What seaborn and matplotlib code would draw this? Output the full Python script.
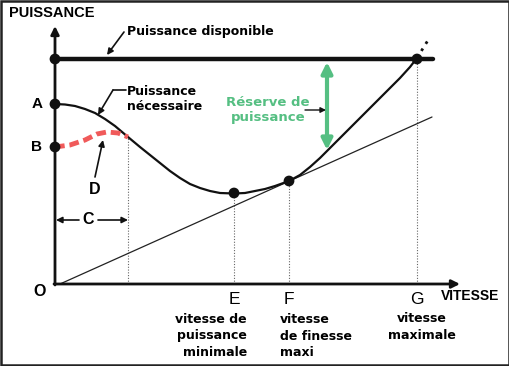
import numpy as np
import pandas as pd
import seaborn as sns
import matplotlib.pyplot as plt
from matplotlib.patches import Rectangle

sns.set_style("white")
plt.rcParams['text.color'] = '#000000'

# Data (schematic units: origin O at 0,0)
vitesse_nec = [0, 10, 20, 30, 40, 50, 60, 73, 85, 95, 105, 115, 125, 135, 145, 155,
               165, 179, 190, 200, 210, 220, 234, 245, 255, 265, 275, 285, 295, 305,
               315, 325, 335, 345, 355, 362]
puissance_nec = [180, 179.5, 178, 175, 171, 165, 158, 147, 137, 129, 121, 113, 106,
                 100, 96, 93, 91, 90.5, 91, 93, 95, 98, 103, 109, 117, 126, 136, 146,
                 156, 166, 176, 186, 196, 206, 217, 226]
vitesse_ext = [362, 375]
puissance_ext = [226, 247]
vitesse_d = [0, 15, 30, 42, 52, 63, 73]
puissance_d = [137, 139, 144, 150, 152, 151, 147]
vitesse_tan = [5, 377]
puissance_tan = [0, 167]
vitesse_dispo = [0, 378]
puissance_dispo = [225, 225]

points_axe = ['dispo', 'A', 'B']
points_axe_y = [225, 180, 137]
points_courbe = ['E', 'F', 'G']
points_courbe_x = [179, 234, 362]
points_courbe_y = [91, 103, 225]
repere_c_x = 73
repere_c_y = 147

bottom_labels = ["vitesse de\npuissance\nminimale", "vitesse\nde finesse\nmaxi",
                 "vitesse\nmaximale"]

GREEN = '#55bf82'
RED = '#f05a5a'

fig = plt.figure(figsize=(5.1, 3.66), dpi=100)
ax = fig.add_axes([0, 0, 1, 1])
ax.set_xlim(-55, 455)
ax.set_ylim(-82, 284)
ax.axis('off')


def P(px, py):
    # pixel position -> data units
    return (px - 55, 284 - py)


# vertical dotted guides
for gx, gy in [(repere_c_x, repere_c_y)] + list(zip(points_courbe_x, points_courbe_y)):
    ax.plot([gx, gx], [0, gy], color='#666666', lw=0.8, ls=(0, (1, 1.5)), zorder=1)

# axes with arrows
ax.annotate('', xy=(0, 258), xytext=(0, -1),
            arrowprops=dict(arrowstyle='-|>', lw=2, color='#111111',
                            mutation_scale=12, shrinkA=0, shrinkB=0))
ax.annotate('', xy=(405, 0), xytext=(-1, 0),
            arrowprops=dict(arrowstyle='-|>', lw=2, color='#111111',
                            mutation_scale=12, shrinkA=0, shrinkB=0))

# curves
sns.lineplot(x=vitesse_tan, y=puissance_tan, ax=ax, color='#222222', lw=0.9,
             sort=False, zorder=2)
sns.lineplot(x=vitesse_dispo, y=puissance_dispo, ax=ax, color='#111111', lw=3.2,
             sort=False, zorder=3)
sns.lineplot(x=vitesse_nec, y=puissance_nec, ax=ax, color='#111111', lw=1.6,
             sort=False, zorder=3)
ax.plot(vitesse_ext, puissance_ext, color='#111111', lw=2, ls=(0, (1, 2)), zorder=3)
ax.plot(vitesse_d, puissance_d, color=RED, lw=3.5, ls=(0, (2, 1)), zorder=4)

# dots
sns.scatterplot(x=[0] * len(points_axe_y), y=points_axe_y, ax=ax, color='#111111',
                s=60, edgecolor='none', zorder=5)
sns.scatterplot(x=points_courbe_x, y=points_courbe_y, ax=ax, color='#111111',
                s=60, edgecolor='none', zorder=5)

# green reserve arrow
ax.annotate('', xy=(272, 222), xytext=(272, 134),
            arrowprops=dict(arrowstyle='<|-|>', lw=3, color=GREEN,
                            mutation_scale=16, shrinkA=0, shrinkB=0))
ax.text(*P(268, 110), 'Réserve de\npuissance', color=GREEN, fontsize=9.5,
        fontweight='bold', ha='center', va='center', linespacing=1.2)
ax.annotate('', xy=P(326, 110), xytext=P(305, 110),
            arrowprops=dict(arrowstyle='-|>', lw=1, color='#111111',
                            mutation_scale=8, shrinkA=0, shrinkB=0))

# labels
ax.text(*P(9, 13), 'PUISSANCE', fontsize=10.5, fontweight='bold',
        family='Liberation Sans', ha='left', va='center')
ax.text(*P(441, 296), 'VITESSE', fontsize=10, fontweight='bold',
        family='Liberation Sans', ha='left', va='center')
ax.text(*P(127, 32), 'Puissance disponible', fontsize=9, fontweight='bold',
        ha='left', va='center')
ax.annotate('', xy=P(107, 55), xytext=P(124, 32),
            arrowprops=dict(arrowstyle='-|>', lw=1.2, color='#111111',
                            mutation_scale=9, shrinkA=0, shrinkB=0))
ax.text(*P(127, 99), 'Puissance\nnécessaire', fontsize=9, fontweight='bold',
        ha='left', va='center', linespacing=1.25)
ax.plot(*zip(P(126, 90), P(113, 90)), color='#111111', lw=1.2)
ax.annotate('', xy=P(98, 115), xytext=P(113, 90),
            arrowprops=dict(arrowstyle='-|>', lw=1.2, color='#111111',
                            mutation_scale=9, shrinkA=0, shrinkB=0))

for lbl, py in zip(points_axe[1:], points_axe_y[1:]):
    ax.text(-18, py, lbl, fontsize=11, fontweight='bold', family='Liberation Sans',
            ha='center', va='center')
ax.text(*P(40, 292), 'O', fontsize=11.5, fontweight='bold', family='Liberation Sans',
        ha='center', va='center')

for lbl, gx in zip(points_courbe, points_courbe_x):
    ax.text(gx, -16, lbl, fontsize=12.5, family='Liberation Sans',
            ha='center', va='center')

# D label and leader
ax.text(*P(95, 189), 'D', fontsize=11.5, fontweight='bold', family='Liberation Sans',
        ha='center', va='center')
ax.annotate('', xy=P(103, 140), xytext=P(95, 177),
            arrowprops=dict(arrowstyle='-|>', lw=1.2, color='#111111',
                            mutation_scale=9, shrinkA=0, shrinkB=0))

# C label and double arrows
ax.text(*P(88, 220), 'C', fontsize=11.5, fontweight='bold', family='Liberation Sans',
        ha='center', va='center')
ax.annotate('', xy=(1, 64), xytext=P(79, 220),
            arrowprops=dict(arrowstyle='-|>', lw=1.2, color='#111111',
                            mutation_scale=9, shrinkA=0, shrinkB=0))
ax.annotate('', xy=(repere_c_x, 64), xytext=P(98, 220),
            arrowprops=dict(arrowstyle='-|>', lw=1.2, color='#111111',
                            mutation_scale=9, shrinkA=0, shrinkB=0))

# bottom descriptions
ax.text(*P(247, 336), bottom_labels[0], fontsize=9, fontweight='bold',
        ha='right', va='center', linespacing=1.35)
ax.text(*P(280, 336), bottom_labels[1], fontsize=9, fontweight='bold',
        ha='left', va='center', linespacing=1.35)
ax.text(*P(422, 327), bottom_labels[2], fontsize=9, fontweight='bold',
        ha='center', va='center', linespacing=1.35)

# image frame
fig.patches.append(Rectangle((0.002, 0.003), 0.996, 0.994, transform=fig.transFigure,
                             fill=False, edgecolor='#222222', lw=1.8))

fig.savefig('out.png', dpi=100)
